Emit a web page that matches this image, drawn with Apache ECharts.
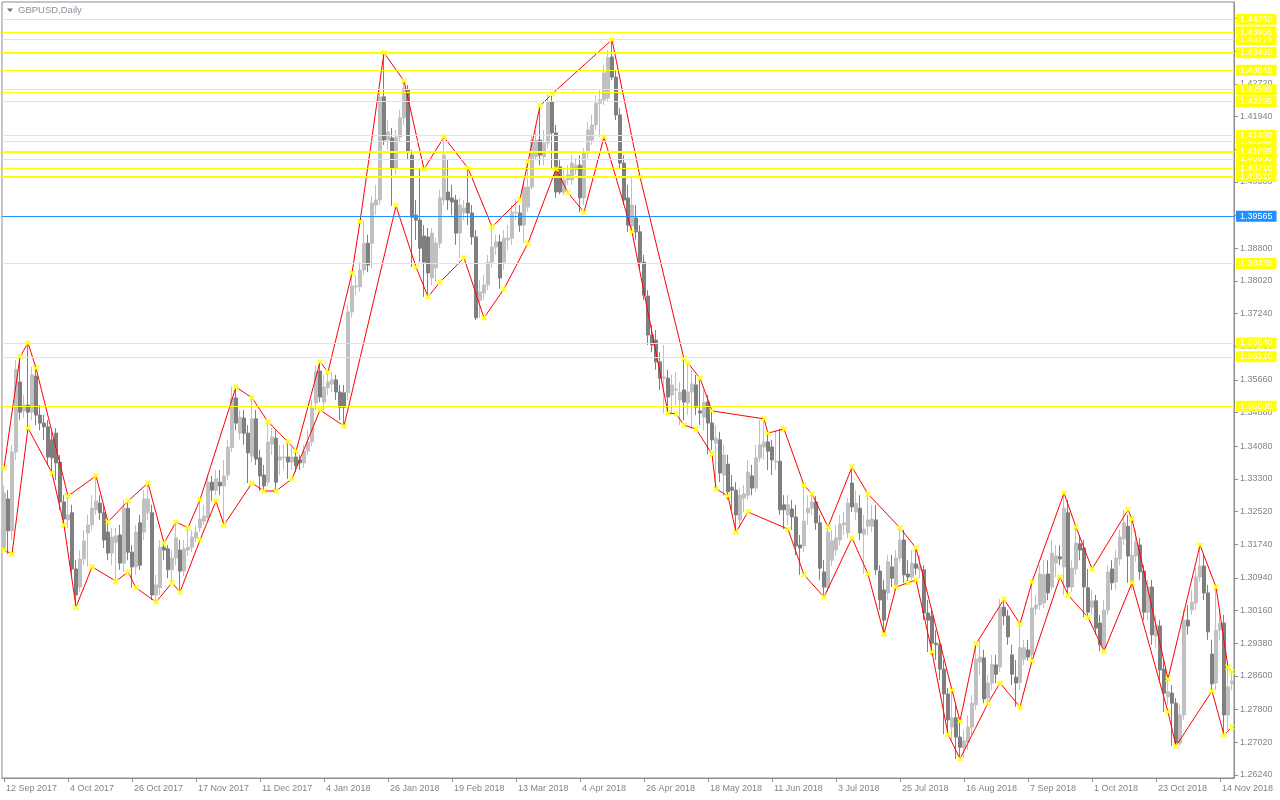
<!DOCTYPE html>
<html><head><meta charset="utf-8">
<script src="https://cdn.jsdelivr.net/npm/echarts@6/dist/echarts.min.js"></script>
<style>html,body{margin:0;padding:0;background:#fff}#c{width:1280px;height:800px}</style>
</head><body><div id="c"></div>
<script>
// ---------------- DATA ----------------
const symbolTitle = 'GBPUSD,Daily';
const firstDate = [2017, 8, 12];            // 12 Sep 2017 (UTC y, m0, d)
const holidays = ['2017-12-25', '2018-01-01'];
const labelEvery = 16;

// [open, close, low, high]
const candles = [
[1.3165,1.3296,1.3160,1.3313],[1.3282,1.3206,1.3151,1.3303],[1.3206,1.3394,1.3184,1.3411],[1.3394,1.3590,1.3375,1.3613],
[1.3561,1.3489,1.3470,1.3621],[1.3492,1.3506,1.3475,1.3530],[1.3506,1.3489,1.3451,1.3654],[1.3489,1.3578,1.3470,1.3597],
[1.3575,1.3482,1.3458,1.3594],[1.3482,1.3463,1.3446,1.3506],[1.3463,1.3454,1.3423,1.3482],[1.3454,1.3382,1.3363,1.3470],
[1.3423,1.3380,1.3344,1.3442],[1.3439,1.3368,1.3327,1.3451],[1.3370,1.3275,1.3256,1.3387],[1.3275,1.3234,1.3220,1.3291],
[1.3232,1.3244,1.3213,1.3289],[1.3249,1.3115,1.3101,1.3268],[1.3115,1.3053,1.3024,1.3136],[1.3072,1.3139,1.3060,1.3160],
[1.3139,1.3182,1.3124,1.3208],[1.3201,1.3220,1.3120,1.3244],[1.3220,1.3260,1.3208,1.3291],[1.3256,1.3277,1.3244,1.3337],
[1.3272,1.3249,1.3232,1.3291],[1.3249,1.3184,1.3165,1.3268],[1.3203,1.3153,1.3136,1.3227],[1.3153,1.3191,1.3124,1.3213],
[1.3179,1.3194,1.3086,1.3213],[1.3196,1.3129,1.3113,1.3220],[1.3129,1.3260,1.3108,1.3280],[1.3260,1.3155,1.3136,1.3277],
[1.3155,1.3120,1.3070,1.3172],[1.3120,1.3203,1.3101,1.3220],[1.3225,1.3124,1.3113,1.3244],[1.3203,1.3282,1.3184,1.3303],
[1.3249,1.3282,1.3232,1.3320],[1.3249,1.3053,1.3041,1.3268],[1.3053,1.3077,1.3036,1.3101],[1.3070,1.3167,1.3053,1.3184],
[1.3167,1.3160,1.3136,1.3177],[1.3163,1.3113,1.3093,1.3172],[1.3113,1.3141,1.3082,1.3160],[1.3141,1.3189,1.3124,1.3227],
[1.3160,1.3110,1.3060,1.3184],[1.3110,1.3163,1.3098,1.3184],[1.3160,1.3167,1.3146,1.3213],[1.3167,1.3191,1.3155,1.3208],
[1.3189,1.3203,1.3179,1.3220],[1.3213,1.3234,1.3203,1.3280],[1.3229,1.3241,1.3220,1.3268],[1.3237,1.3322,1.3227,1.3339],
[1.3322,1.3303,1.3277,1.3337],[1.3303,1.3330,1.3291,1.3351],[1.3322,1.3313,1.3291,1.3351],[1.3313,1.3337,1.3220,1.3375],
[1.3339,1.3406,1.3327,1.3423],[1.3404,1.3523,1.3394,1.3549],[1.3523,1.3463,1.3446,1.3547],[1.3439,1.3477,1.3423,1.3494],
[1.3475,1.3439,1.3411,1.3494],[1.3439,1.3392,1.3320,1.3458],[1.3384,1.3473,1.3370,1.3523],[1.3473,1.3377,1.3363,1.3494],
[1.3380,1.3337,1.3301,1.3399],[1.3339,1.3313,1.3303,1.3363],[1.3322,1.3418,1.3313,1.3466],[1.3413,1.3430,1.3387,1.3451],
[1.3427,1.3322,1.3301,1.3446],[1.3375,1.3382,1.3339,1.3411],[1.3380,1.3382,1.3351,1.3411],[1.3382,1.3370,1.3330,1.3418],
[1.3370,1.3382,1.3351,1.3404],[1.3382,1.3361,1.3346,1.3396],[1.3375,1.3368,1.3351,1.3387],[1.3368,1.3396,1.3356,1.3411],
[1.3396,1.3418,1.3387,1.3446],[1.3418,1.3499,1.3408,1.3518],[1.3511,1.3585,1.3494,1.3601],[1.3587,1.3525,1.3513,1.3609],
[1.3513,1.3549,1.3494,1.3578],[1.3547,1.3561,1.3530,1.3585],[1.3556,1.3566,1.3537,1.3585],[1.3566,1.3537,1.3518,1.3578],
[1.3537,1.3501,1.3470,1.3554],[1.3535,1.3501,1.3456,1.3554],[1.3535,1.3728,1.3518,1.3745],[1.3728,1.3790,1.3714,1.3821],
[1.3788,1.3790,1.3768,1.3816],[1.3788,1.3828,1.3776,1.3847],[1.3828,1.3892,1.3816,1.3945],[1.3892,1.3840,1.3823,1.3912],
[1.3892,1.3988,1.3833,1.4005],[1.3983,1.3995,1.3959,1.4031],[1.3995,1.4241,1.3983,1.4257],[1.4241,1.4138,1.4126,1.4346],
[1.4138,1.4157,1.4114,1.4186],[1.4143,1.4071,1.3981,1.4167],[1.4071,1.4145,1.4055,1.4162],[1.4145,1.4191,1.4133,1.4210],
[1.4191,1.4262,1.4174,1.4279],[1.4257,1.4109,1.4090,1.4269],[1.4102,1.3954,1.3835,1.4114],[1.3959,1.3947,1.3900,1.3995],
[1.3947,1.3880,1.3847,1.4069],[1.3909,1.3847,1.3764,1.3935],[1.3907,1.3821,1.3764,1.3928],[1.3809,1.3916,1.3792,1.3928],
[1.3833,1.3892,1.3799,1.3904],[1.3892,1.4000,1.3880,1.4019],[1.3995,1.4102,1.3983,1.4145],[1.4014,1.3995,1.3971,1.4090],
[1.4000,1.3990,1.3959,1.4031],[1.3995,1.3916,1.3888,1.4007],[1.3916,1.3983,1.3857,1.4000],[1.3964,1.3976,1.3947,1.3995],
[1.3988,1.3964,1.3935,1.4071],[1.3964,1.3907,1.3888,1.3983],[1.3907,1.3714,1.3709,1.3923],[1.3756,1.3776,1.3714,1.3804],
[1.3773,1.3792,1.3756,1.3816],[1.3792,1.3847,1.3780,1.3864],[1.3847,1.3883,1.3833,1.3931],[1.3883,1.3895,1.3864,1.3912],
[1.3895,1.3809,1.3783,1.3912],[1.3847,1.3904,1.3828,1.3923],[1.3900,1.3904,1.3876,1.3935],[1.3904,1.3966,1.3888,1.3983],
[1.3964,1.3966,1.3947,1.3997],[1.3964,1.3935,1.3919,1.3983],[1.3935,1.4026,1.3892,1.4038],[1.3978,1.4026,1.3966,1.4086],
[1.4026,1.4138,1.4019,1.4150],[1.4098,1.4138,1.4090,1.4162],[1.4138,1.4102,1.4078,1.4219],[1.4098,1.4131,1.4078,1.4162],
[1.4131,1.4229,1.4119,1.4248],[1.4229,1.4155,1.4069,1.4243],[1.4155,1.4014,1.4000,1.4174],[1.4074,1.4014,1.4009,1.4090],
[1.4014,1.4043,1.4007,1.4067],[1.4043,1.4055,1.4031,1.4078],[1.4043,1.4083,1.4031,1.4102],[1.4067,1.4078,1.4055,1.4095],
[1.4078,1.4000,1.3966,1.4102],[1.4000,1.4107,1.3983,1.4119],[1.4107,1.4162,1.4095,1.4181],[1.4138,1.4174,1.4126,1.4198],
[1.4174,1.4226,1.4162,1.4245],[1.4226,1.4234,1.4145,1.4257],[1.4234,1.4298,1.4222,1.4317],[1.4238,1.4334,1.4229,1.4353],
[1.4336,1.4288,1.4281,1.4377],[1.4288,1.4198,1.4186,1.4305],[1.4198,1.4083,1.4071,1.4214],[1.4083,1.3995,1.3983,1.4102],
[1.4000,1.3935,1.3919,1.4031],[1.3933,1.3983,1.3919,1.4047],[1.3952,1.3919,1.3900,1.3983],[1.3919,1.3847,1.3828,1.3935],
[1.3847,1.3768,1.3756,1.3864],[1.3766,1.3673,1.3649,1.3780],[1.3673,1.3649,1.3632,1.3697],[1.3661,1.3609,1.3590,1.3685],
[1.3609,1.3570,1.3542,1.3632],[1.3570,1.3573,1.3487,1.3649],[1.3570,1.3525,1.3485,1.3590],[1.3530,1.3554,1.3485,1.3578],
[1.3542,1.3544,1.3506,1.3585],[1.3518,1.3537,1.3458,1.3561],[1.3542,1.3513,1.3470,1.3616],[1.3511,1.3537,1.3482,1.3606],
[1.3537,1.3556,1.3449,1.3590],[1.3554,1.3501,1.3482,1.3578],[1.3492,1.3487,1.3458,1.3570],[1.3477,1.3513,1.3446,1.3542],
[1.3513,1.3463,1.3389,1.3530],[1.3463,1.3423,1.3399,1.3492],[1.3415,1.3427,1.3306,1.3458],[1.3423,1.3344,1.3322,1.3442],
[1.3339,1.3387,1.3289,1.3411],[1.3365,1.3299,1.3280,1.3387],[1.3310,1.3303,1.3256,1.3339],[1.3303,1.3244,1.3203,1.3322],
[1.3232,1.3291,1.3213,1.3308],[1.3284,1.3294,1.3251,1.3315],[1.3291,1.3346,1.3280,1.3375],[1.3337,1.3308,1.3291,1.3363],
[1.3308,1.3380,1.3299,1.3411],[1.3380,1.3411,1.3370,1.3470],[1.3406,1.3418,1.3375,1.3466],[1.3418,1.3396,1.3351,1.3439],
[1.3406,1.3375,1.3339,1.3423],[1.3370,1.3372,1.3351,1.3446],[1.3372,1.3256,1.3244,1.3449],[1.3268,1.3256,1.3210,1.3291],
[1.3244,1.3268,1.3220,1.3291],[1.3258,1.3239,1.3208,1.3280],[1.3239,1.3170,1.3148,1.3268],[1.3172,1.3165,1.3101,1.3196],
[1.3170,1.3229,1.3155,1.3315],[1.3249,1.3260,1.3220,1.3291],[1.3260,1.3275,1.3244,1.3294],[1.3275,1.3225,1.3208,1.3289],
[1.3225,1.3117,1.3089,1.3244],[1.3108,1.3072,1.3048,1.3136],[1.3070,1.3203,1.3060,1.3215],[1.3136,1.3182,1.3122,1.3208],
[1.3160,1.3189,1.3146,1.3220],[1.3184,1.3222,1.3172,1.3244],[1.3220,1.3225,1.3196,1.3251],[1.3201,1.3272,1.3189,1.3284],
[1.3320,1.3263,1.3251,1.3358],[1.3251,1.3272,1.3232,1.3303],[1.3260,1.3201,1.3184,1.3291],[1.3198,1.3210,1.3103,1.3244],
[1.3217,1.3232,1.3196,1.3294],[1.3217,1.3234,1.3203,1.3268],[1.3232,1.3113,1.3101,1.3268],[1.3110,1.3041,1.3017,1.3124],
[1.3065,1.2993,1.2960,1.3089],[1.3058,1.3132,1.3041,1.3148],[1.3120,1.3093,1.3072,1.3148],[1.3077,1.3141,1.3065,1.3160],
[1.3141,1.3184,1.3132,1.3213],[1.3184,1.3101,1.3082,1.3208],[1.3103,1.3096,1.3077,1.3136],[1.3096,1.3129,1.3089,1.3160],
[1.3127,1.3117,1.3101,1.3165],[1.3113,1.3122,1.3093,1.3148],[1.3113,1.3010,1.2993,1.3124],[1.3010,1.2993,1.2917,1.3041],
[1.3003,1.2938,1.2910,1.3017],[1.2938,1.2934,1.2898,1.2969],[1.2934,1.2876,1.2850,1.2946],[1.2876,1.2817,1.2721,1.2898],
[1.2817,1.2755,1.2719,1.2831],[1.2738,1.2760,1.2707,1.2826],[1.2760,1.2714,1.2662,1.2791],[1.2714,1.2690,1.2659,1.2752],
[1.2688,1.2705,1.2664,1.2731],[1.2702,1.2738,1.2683,1.2767],[1.2738,1.2795,1.2719,1.2814],[1.2791,1.2900,1.2779,1.2936],
[1.2893,1.2905,1.2862,1.2946],[1.2903,1.2805,1.2795,1.2922],[1.2807,1.2843,1.2791,1.2862],[1.2843,1.2888,1.2826,1.2910],
[1.2886,1.2864,1.2843,1.2910],[1.2881,1.3024,1.2869,1.3043],[1.3024,1.3003,1.2981,1.3041],[1.3003,1.2953,1.2934,1.3017],
[1.2910,1.2864,1.2838,1.2934],[1.2857,1.2843,1.2786,1.2898],[1.2845,1.2927,1.2826,1.2984],[1.2900,1.2927,1.2886,1.2946],
[1.2922,1.2905,1.2896,1.2946],[1.2910,1.3022,1.2898,1.3084],[1.3020,1.3029,1.3005,1.3053],[1.3029,1.3103,1.3017,1.3124],
[1.3034,1.3101,1.3022,1.3136],[1.3103,1.3058,1.3041,1.3136],[1.3072,1.3153,1.3065,1.3184],[1.3129,1.3146,1.3096,1.3172],
[1.3144,1.3139,1.3124,1.3172],[1.3120,1.3260,1.3053,1.3296],[1.3249,1.3072,1.3053,1.3280],[1.3072,1.3117,1.3060,1.3136],
[1.3115,1.3177,1.3101,1.3215],[1.3175,1.3160,1.3136,1.3196],[1.3165,1.3072,1.3000,1.3184],[1.3070,1.3012,1.2998,1.3115],
[1.3024,1.3039,1.3005,1.3065],[1.3039,1.2974,1.2958,1.3053],[1.2986,1.2934,1.2919,1.3005],[1.2922,1.3017,1.2917,1.3041],
[1.3017,1.3108,1.3005,1.3124],[1.3115,1.3082,1.3065,1.3136],[1.3084,1.3141,1.3065,1.3160],[1.3139,1.3191,1.3124,1.3208],
[1.3187,1.3225,1.3172,1.3256],[1.3217,1.3146,1.3082,1.3244],[1.3082,1.3148,1.3065,1.3234],[1.3146,1.3179,1.3132,1.3208],
[1.3172,1.3108,1.3089,1.3189],[1.3110,1.3012,1.2993,1.3124],[1.3012,1.3072,1.2993,1.3089],[1.3072,1.2958,1.2934,1.3089],
[1.2955,1.2981,1.2927,1.3005],[1.2979,1.2874,1.2850,1.2993],[1.2876,1.2819,1.2774,1.2898],[1.2810,1.2822,1.2791,1.2853],
[1.2819,1.2795,1.2693,1.2838],[1.2795,1.2700,1.2693,1.2807],[1.2700,1.2767,1.2693,1.2791],[1.2767,1.2993,1.2755,1.3017],
[1.2993,1.2979,1.2958,1.3029],[1.3017,1.3036,1.3005,1.3065],[1.3034,1.3096,1.3017,1.3117],[1.3096,1.3122,1.3084,1.3172],
[1.3122,1.3058,1.3041,1.3148],[1.3058,1.2965,1.2946,1.3077],[1.2912,1.2841,1.2824,1.2946],[1.2843,1.2969,1.2826,1.3072],
[1.2969,1.2986,1.2946,1.3017],[1.2986,1.2767,1.2719,1.3005],[1.2767,1.2834,1.2731,1.2881],[1.2841,1.2848,1.2826,1.2874]
];

// zigzag envelope vertices: [bar index, price]
const upperZigzag = [
[0,1.3356],[4,1.3621],[6,1.3654],[8,1.3594],[16,1.3289],[23,1.3337],[26,1.3227],[31,1.3277],[36,1.3320],
[40,1.3177],[43,1.3227],[46,1.3213],[49,1.3280],[58,1.3549],[62,1.3523],[66,1.3466],[71,1.3418],[73,1.3396],
[79,1.3609],[81,1.3585],[87,1.3821],[89,1.3943],[95,1.4346],[100,1.4279],[105,1.4069],[110,1.4145],[116,1.4071],
[122,1.3931],[129,1.3997],[131,1.4086],[134,1.4219],[137,1.4248],[152,1.4377],[159,1.4050],[170,1.3616],[171,1.3606],
[174,1.3570],[177,1.3492],[190,1.3473],[191,1.3439],[195,1.3449],[200,1.3315],[202,1.3294],[206,1.3215],[212,1.3358],
[216,1.3294],[224,1.3213],[228,1.3165],[237,1.2826],[239,1.2752],[243,1.2936],[250,1.3043],[254,1.2984],[257,1.3084],
[265,1.3296],[268,1.3215],[272,1.3115],[281,1.3256],[282,1.3234],[291,1.2853],[299,1.3172],[303,1.3072],[306,1.2881],[307,1.2870]
];
const lowerZigzag = [
[0,1.3160],[2,1.3151],[6,1.3451],[12,1.3344],[15,1.3220],[18,1.3024],[22,1.3120],[28,1.3086],[31,1.3108],[33,1.3070],
[38,1.3036],[42,1.3082],[44,1.3060],[49,1.3184],[53,1.3277],[55,1.3220],[62,1.3320],[65,1.3301],[68,1.3301],[72,1.3330],
[79,1.3494],[85,1.3456],[98,1.3981],[103,1.3835],[106,1.3764],[109,1.3799],[115,1.3857],[120,1.3714],[125,1.3783],
[131,1.3892],[138,1.4069],[141,1.4012],[145,1.3966],[150,1.4145],[157,1.3919],[166,1.3487],[168,1.3485],[170,1.3458],
[173,1.3449],[177,1.3389],[178,1.3306],[181,1.3289],[183,1.3203],[186,1.3251],[196,1.3210],[200,1.3101],[205,1.3048],
[212,1.3189],[216,1.3103],[220,1.2960],[223,1.3072],[226,1.3082],[228,1.3089],[232,1.2917],[236,1.2721],[239,1.2662],
[246,1.2795],[249,1.2843],[254,1.2786],[257,1.2896],[264,1.3096],[266,1.3053],[271,1.3000],[275,1.2919],[282,1.3082],
[291,1.2774],[293,1.2693],[302,1.2824],[305,1.2719],[307,1.2738]
];

// horizontal price levels
const yellowLevels = [1.43775, 1.41340, 1.40930, 1.44260, 1.43955, 1.43460, 1.43045, 1.42525, 1.42580, 1.42295,
                      1.41490, 1.41095, 1.40710, 1.40510, 1.38435, 1.36540, 1.36210, 1.35030];
const unlabeledLevels = [1.42525];
const blueLevel = 1.39565;

// right price-scale tick labels
const yTicks = [1.26240,1.27020,1.27800,1.28600,1.29380,1.30160,1.30940,1.31740,1.32520,1.33300,1.34080,1.34880,
                1.35660,1.36460,1.37240,1.38020,1.38800,1.39580,1.40380,1.41160,1.41940,1.42720,1.43500,1.44280];

// ---------------- BUILD ----------------
const MONTHS = ['Jan','Feb','Mar','Apr','May','Jun','Jul','Aug','Sep','Oct','Nov','Dec'];
function buildDates(n) {
  const out = [];
  const d = new Date(Date.UTC(firstDate[0], firstDate[1], firstDate[2]));
  while (out.length < n) {
    const wd = d.getUTCDay();
    const iso = d.toISOString().slice(0, 10);
    if (wd !== 0 && wd !== 6 && holidays.indexOf(iso) < 0) {
      out.push(d.getUTCDate() + ' ' + MONTHS[d.getUTCMonth()] + ' ' + d.getUTCFullYear());
    }
    d.setUTCDate(d.getUTCDate() + 1);
  }
  return out;
}
const dates = buildDates(candles.length);

const FONT = 'Liberation Sans';
const AXIS_GRAY = '#8c8c8c';
const TEXT_GRAY = '#7e858f';
const thick = [1.43460, 1.41095, 1.40510];
const X_PATH = 'path://M0,2L2,0L5,3L8,0L10,2L7,5L10,8L8,10L5,7L2,10L0,8L3,5Z';

const lineLabel = (bg) => ({
  show: true, position: 'end', distance: 2,
  formatter: (p) => Number(p.value).toFixed(5),
  color: '#ffffff', backgroundColor: bg, padding: [1, 4, 1, 4],
  fontSize: 9, lineHeight: 9, fontFamily: FONT
});

const markData = yellowLevels.map(v => ({
  yAxis: v,
  lineStyle: { color: '#ffff00', width: thick.indexOf(v) >= 0 ? 2 : 1, type: 'solid' },
  label: unlabeledLevels.indexOf(v) >= 0 ? { show: false } : lineLabel('#ffff00')
}));
markData.push({
  yAxis: blueLevel,
  lineStyle: { color: '#1e90ff', width: 1, type: 'solid' },
  label: lineLabel('#1e90ff')
});

const chart = echarts.init(document.getElementById('c'), null, { renderer: 'canvas' });
chart.setOption({
  animation: false,
  backgroundColor: '#ffffff',
  grid: { left: 2, right: 46, top: 2, bottom: 22, show: true, borderColor: AXIS_GRAY, borderWidth: 1 },
  graphic: [
    { type: 'polygon', shape: { points: [[7, 8.5], [13, 8.5], [10, 12]] }, style: { fill: '#6e6e6e' } },
    { type: 'text', left: 18, top: 5, style: { text: symbolTitle, fill: '#8a8f99', font: '9.5px "Liberation Sans"' } }
  ],
  xAxis: {
    type: 'category', data: dates, boundaryGap: true,
    axisLine: { show: true, lineStyle: { color: AXIS_GRAY } },
    axisTick: { show: true, alignWithLabel: true, interval: (i) => i % labelEvery === 0, length: 4, lineStyle: { color: AXIS_GRAY } },
    axisLabel: { interval: (i) => i % labelEvery === 0, align: 'left', padding: [0, 0, 0, 2], margin: 6,
                 color: TEXT_GRAY, fontSize: 9, fontFamily: FONT },
    splitLine: { show: false }
  },
  yAxis: {
    type: 'value', position: 'right', min: 1.26165, max: 1.44672,
    axisLine: { show: true, lineStyle: { color: AXIS_GRAY } },
    axisTick: { show: true, customValues: yTicks, length: 4, lineStyle: { color: AXIS_GRAY } },
    axisLabel: { customValues: yTicks, formatter: (v) => v.toFixed(5), margin: 6, color: TEXT_GRAY, fontSize: 9, fontFamily: FONT },
    splitLine: { show: false }
  },
  series: [
    {
      type: 'candlestick', data: candles, barWidth: 3, barMinWidth: 3,
      itemStyle: { color: '#c0c0c0', color0: '#7f7f7f', borderColor: '#c0c0c0', borderColor0: '#7f7f7f', borderWidth: 1 },
      markLine: { symbol: ['none', 'none'], silent: true, animation: false, precision: 5, data: markData }
    },
    {
      type: 'line', data: upperZigzag, z: 4, silent: true,
      lineStyle: { color: '#ff0000', width: 1 },
      symbol: X_PATH, symbolSize: 6, showAllSymbol: true,
      itemStyle: { color: '#ffff00' }
    },
    {
      type: 'line', data: lowerZigzag, z: 4, silent: true,
      lineStyle: { color: '#ff0000', width: 1 },
      symbol: X_PATH, symbolSize: 6, showAllSymbol: true,
      itemStyle: { color: '#ffff00' }
    }
  ]
});
</script>
</body></html>
